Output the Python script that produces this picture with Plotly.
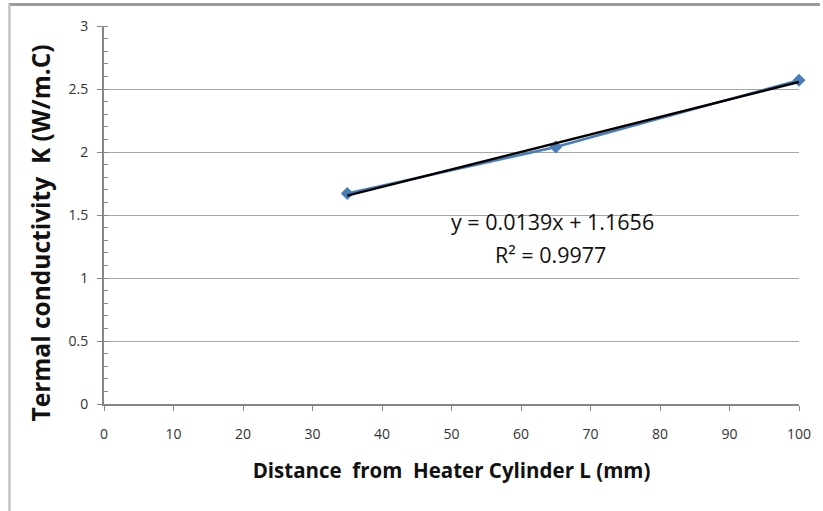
import numpy as np
import plotly.graph_objects as go

# Data
distance_mm = [35, 65, 100]
conductivity = [1.67, 2.04, 2.57]
x_ticks = [0, 10, 20, 30, 40, 50, 60, 70, 80, 90, 100]
y_ticks = [0, 0.5, 1, 1.5, 2, 2.5, 3]
equation_text = "y = 0.0139x + 1.1656"
r2_text = "R² = 0.9977"

slope, intercept = np.polyfit(distance_mm, conductivity, 1)
trend_x = [min(distance_mm), max(distance_mm)]
trend_y = [slope * v + intercept for v in trend_x]

FONT = "Open Sans"
NB = "\u00a0"

fig = go.Figure()
fig.add_trace(go.Scatter(
    x=distance_mm, y=conductivity, mode="lines+markers",
    line=dict(color="#4a7ebb", width=2.5),
    marker=dict(symbol="diamond", size=10, color="#4a7ebb"),
    cliponaxis=False, showlegend=False, hoverinfo="skip"))
fig.add_trace(go.Scatter(
    x=trend_x, y=trend_y, mode="lines",
    line=dict(color="#000000", width=2.5),
    cliponaxis=False, showlegend=False, hoverinfo="skip"))

fig.add_annotation(x=64.5, y=1.45, xref="x", yref="y", text=equation_text,
                   showarrow=False, font=dict(family=FONT, size=21.5, color="#111"))
fig.add_annotation(x=64.2, y=1.19, xref="x", yref="y", text=r2_text,
                   showarrow=False, font=dict(family=FONT, size=21.5, color="#111"))

# Y axis title placed as rotated text
fig.add_annotation(x=-0.0916, y=0.452, xref="paper", yref="paper",
                   text=f"Termal conductivity{NB}{NB}K (W/m.C)", textangle=-90,
                   showarrow=False, xanchor="center", yanchor="middle",
                   font=dict(family=FONT, size=24.5, color="#111", weight="bold"))

# Outer chart frame (top and left edges)
fig.add_shape(type="line", xref="paper", yref="paper", x0=-0.137, x1=1.03,
              y0=1.057, y1=1.057, line=dict(color="#9a9a9a", width=3))
fig.add_shape(type="line", xref="paper", yref="paper", x0=-0.136, x1=-0.136,
              y0=1.057, y1=-0.3, line=dict(color="#c4c4c4", width=2.5))

fig.update_layout(
    width=823, height=511,
    margin=dict(l=104, r=20, t=26, b=107),
    paper_bgcolor="white", plot_bgcolor="white",
    font=dict(family=FONT, color="#333"),
    xaxis=dict(
        range=[0, 100], tickvals=x_ticks, ticktext=[str(v) for v in x_ticks],
        showgrid=False, zeroline=False,
        showline=True, linecolor="#868686", linewidth=2,
        ticks="outside", ticklen=5, tickcolor="#868686", tickwidth=1,
        ticklabelstandoff=11,
        tickfont=dict(family=FONT, size=14, color="#333"),
        title=dict(text=f"Distance{NB}{NB}from{NB}{NB}Heater Cylinder L (mm)",
                   font=dict(family=FONT, size=20.5, color="#111", weight="bold"),
                   standoff=22),
    ),
    yaxis=dict(
        range=[0, 3], tickvals=y_ticks, ticktext=[str(v) for v in y_ticks],
        showgrid=True, gridcolor="#a6a6a6", gridwidth=1.3,
        zeroline=False,
        showline=True, linecolor="#868686", linewidth=2,
        ticks="outside", ticklen=5, tickcolor="#868686", tickwidth=1,
        ticklabelstandoff=6,
        tickfont=dict(family=FONT, size=14, color="#333"),
        minor=dict(ticks="inside", dtick=0.1, ticklen=4, tickcolor="#868686",
                   showgrid=False),
    ),
)

fig.write_html("out.html")
